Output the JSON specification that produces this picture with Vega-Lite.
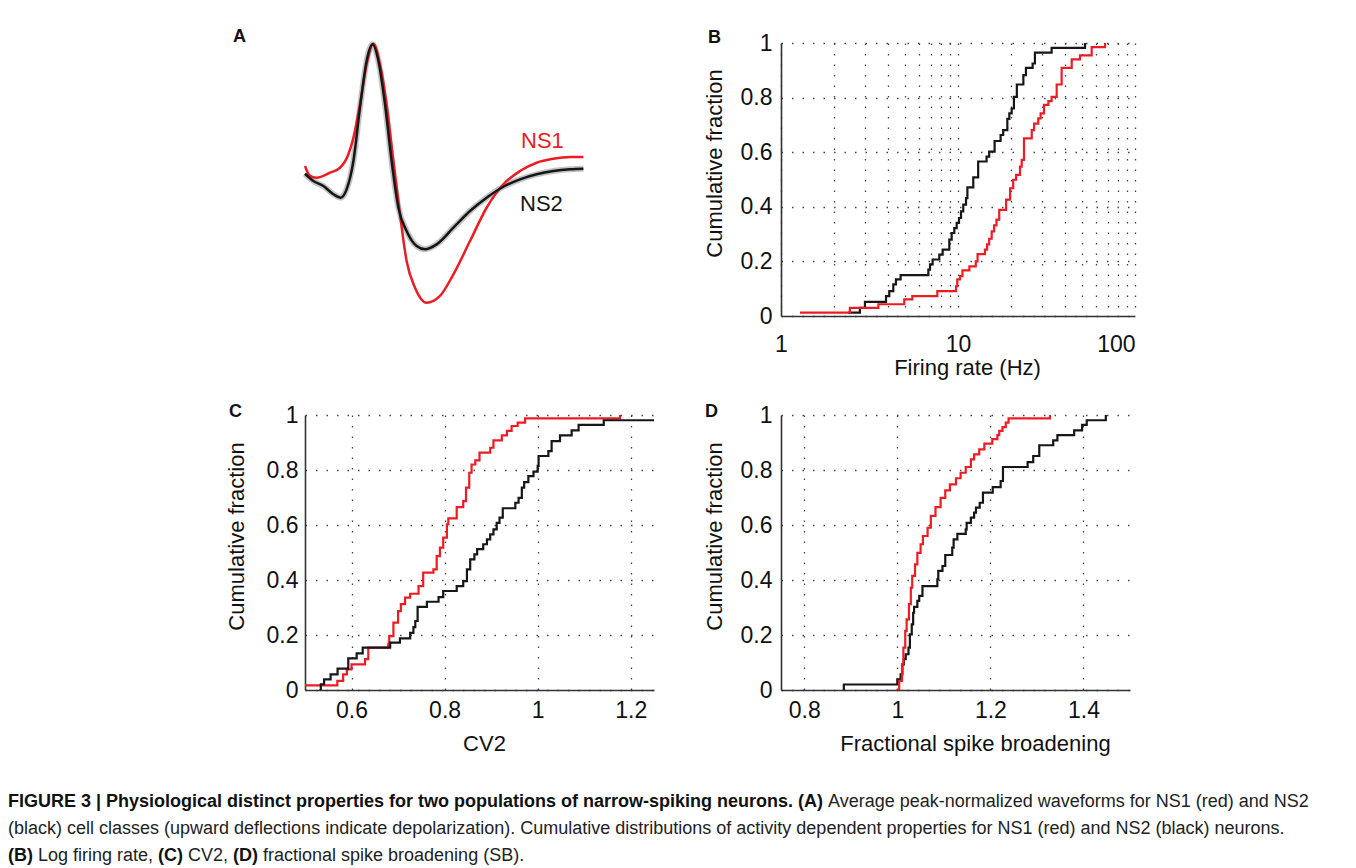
{
  "$schema": "https://vega.github.io/schema/vega-lite/v6.json",
  "background": "white",
  "padding": {"left": 8, "top": 28, "right": 2, "bottom": 2},
  "config": {
    "view": {"stroke": null},
    "font": "Liberation Sans",
    "axis": {
      "labelFont": "Liberation Sans", "titleFont": "Liberation Sans",
      "labelFontSize": 23, "titleFontSize": 22, "titleFontWeight": "normal",
      "labelColor": "#111", "titleColor": "#111",
      "domainColor": "#333", "domainWidth": 1.6,
      "ticks": false, "tickSize": 0,
      "grid": true, "gridColor": "#444", "gridDash": [1.5, 9], "gridWidth": 1.3,
      "labelFlush": false
    },
    "title": {"font": "Liberation Sans", "fontSize": 18, "fontWeight": "bold", "anchor": "start", "frame": "group", "color": "#111", "offset": 0}
  },
  "datasets": {
    "wave": [
      {"group": "NS1", "t": 0.0, "a": 0.099}, {"group": "NS1", "t": 0.025, "a": 0.026}, {"group": "NS1", "t": 0.058, "a": 0.013},
      {"group": "NS1", "t": 0.125, "a": 0.05}, {"group": "NS1", "t": 0.175, "a": 0.086}, {"group": "NS1", "t": 0.217, "a": 0.185},
      {"group": "NS1", "t": 0.242, "a": 0.306}, {"group": "NS1", "t": 0.275, "a": 0.551}, {"group": "NS1", "t": 0.308, "a": 0.844},
      {"group": "NS1", "t": 0.342, "a": 0.995}, {"group": "NS1", "t": 0.375, "a": 0.844}, {"group": "NS1", "t": 0.408, "a": 0.551},
      {"group": "NS1", "t": 0.442, "a": 0.136}, {"group": "NS1", "t": 0.475, "a": -0.255}, {"group": "NS1", "t": 0.508, "a": -0.597},
      {"group": "NS1", "t": 0.55, "a": -0.793}, {"group": "NS1", "t": 0.608, "a": -0.903}, {"group": "NS1", "t": 0.675, "a": -0.853},
      {"group": "NS1", "t": 0.742, "a": -0.695}, {"group": "NS1", "t": 0.825, "a": -0.451}, {"group": "NS1", "t": 0.908, "a": -0.207},
      {"group": "NS1", "t": 0.992, "a": -0.035}, {"group": "NS1", "t": 1.075, "a": 0.062}, {"group": "NS1", "t": 1.158, "a": 0.123},
      {"group": "NS1", "t": 1.242, "a": 0.152}, {"group": "NS1", "t": 1.325, "a": 0.165}, {"group": "NS1", "t": 1.392, "a": 0.165},
      {"group": "NS2", "t": 0.0, "a": 0.042}, {"group": "NS2", "t": 0.042, "a": -0.011}, {"group": "NS2", "t": 0.092, "a": -0.048},
      {"group": "NS2", "t": 0.142, "a": -0.108}, {"group": "NS2", "t": 0.178, "a": -0.133}, {"group": "NS2", "t": 0.208, "a": -0.072},
      {"group": "NS2", "t": 0.242, "a": 0.136}, {"group": "NS2", "t": 0.275, "a": 0.526}, {"group": "NS2", "t": 0.308, "a": 0.868},
      {"group": "NS2", "t": 0.338, "a": 0.99}, {"group": "NS2", "t": 0.367, "a": 0.868}, {"group": "NS2", "t": 0.4, "a": 0.551},
      {"group": "NS2", "t": 0.433, "a": 0.136}, {"group": "NS2", "t": 0.467, "a": -0.207}, {"group": "NS2", "t": 0.508, "a": -0.377},
      {"group": "NS2", "t": 0.558, "a": -0.487}, {"group": "NS2", "t": 0.6, "a": -0.511}, {"group": "NS2", "t": 0.658, "a": -0.475},
      {"group": "NS2", "t": 0.742, "a": -0.353}, {"group": "NS2", "t": 0.825, "a": -0.231}, {"group": "NS2", "t": 0.908, "a": -0.133},
      {"group": "NS2", "t": 0.992, "a": -0.053}, {"group": "NS2", "t": 1.075, "a": 0.001}, {"group": "NS2", "t": 1.158, "a": 0.038},
      {"group": "NS2", "t": 1.242, "a": 0.062}, {"group": "NS2", "t": 1.325, "a": 0.075}, {"group": "NS2", "t": 1.392, "a": 0.079}
    ],
    "waveLabels": [
      {"group": "NS1", "t": 1.08, "a": 0.233},
      {"group": "NS2", "t": 1.075, "a": -0.231}
    ],
    "firing": [
      {"group": "NS2", "x": 2.4, "F": 0.012}, {"group": "NS2", "x": 2.79, "F": 0.03}, {"group": "NS2", "x": 2.98, "F": 0.052},
      {"group": "NS2", "x": 3.92, "F": 0.073}, {"group": "NS2", "x": 4.09, "F": 0.091}, {"group": "NS2", "x": 4.31, "F": 0.116},
      {"group": "NS2", "x": 4.46, "F": 0.134}, {"group": "NS2", "x": 4.74, "F": 0.15}, {"group": "NS2", "x": 6.8, "F": 0.17},
      {"group": "NS2", "x": 6.95, "F": 0.189}, {"group": "NS2", "x": 7.19, "F": 0.207}, {"group": "NS2", "x": 7.84, "F": 0.225},
      {"group": "NS2", "x": 8.19, "F": 0.243}, {"group": "NS2", "x": 8.93, "F": 0.28}, {"group": "NS2", "x": 9.21, "F": 0.304},
      {"group": "NS2", "x": 9.53, "F": 0.322}, {"group": "NS2", "x": 9.83, "F": 0.341}, {"group": "NS2", "x": 10.13, "F": 0.359},
      {"group": "NS2", "x": 10.4, "F": 0.383}, {"group": "NS2", "x": 10.71, "F": 0.408}, {"group": "NS2", "x": 11.1, "F": 0.432},
      {"group": "NS2", "x": 11.3, "F": 0.471}, {"group": "NS2", "x": 12.2, "F": 0.508}, {"group": "NS2", "x": 13.0, "F": 0.566},
      {"group": "NS2", "x": 14.5, "F": 0.584}, {"group": "NS2", "x": 15.0, "F": 0.602}, {"group": "NS2", "x": 16.1, "F": 0.641},
      {"group": "NS2", "x": 17.4, "F": 0.663}, {"group": "NS2", "x": 18.0, "F": 0.681}, {"group": "NS2", "x": 19.0, "F": 0.722},
      {"group": "NS2", "x": 19.5, "F": 0.742}, {"group": "NS2", "x": 20.1, "F": 0.76}, {"group": "NS2", "x": 20.7, "F": 0.803},
      {"group": "NS2", "x": 21.5, "F": 0.848}, {"group": "NS2", "x": 23.4, "F": 0.882}, {"group": "NS2", "x": 24.2, "F": 0.909},
      {"group": "NS2", "x": 26.4, "F": 0.925}, {"group": "NS2", "x": 27.2, "F": 0.965}, {"group": "NS2", "x": 33.8, "F": 0.982},
      {"group": "NS2", "x": 52.2, "F": 1.0},
      {"group": "NS1", "x": 1.28, "F": 0.012}, {"group": "NS1", "x": 2.45, "F": 0.03}, {"group": "NS1", "x": 3.55, "F": 0.043},
      {"group": "NS1", "x": 4.97, "F": 0.061}, {"group": "NS1", "x": 5.52, "F": 0.073}, {"group": "NS1", "x": 7.64, "F": 0.091},
      {"group": "NS1", "x": 9.75, "F": 0.109}, {"group": "NS1", "x": 9.91, "F": 0.134}, {"group": "NS1", "x": 10.26, "F": 0.146},
      {"group": "NS1", "x": 10.6, "F": 0.167}, {"group": "NS1", "x": 11.6, "F": 0.182}, {"group": "NS1", "x": 12.6, "F": 0.2},
      {"group": "NS1", "x": 12.9, "F": 0.227}, {"group": "NS1", "x": 14.2, "F": 0.243}, {"group": "NS1", "x": 14.6, "F": 0.262},
      {"group": "NS1", "x": 15.0, "F": 0.283}, {"group": "NS1", "x": 15.5, "F": 0.31}, {"group": "NS1", "x": 16.0, "F": 0.332},
      {"group": "NS1", "x": 16.5, "F": 0.353}, {"group": "NS1", "x": 17.1, "F": 0.389}, {"group": "NS1", "x": 18.7, "F": 0.426},
      {"group": "NS1", "x": 19.7, "F": 0.468}, {"group": "NS1", "x": 20.5, "F": 0.499}, {"group": "NS1", "x": 21.3, "F": 0.517},
      {"group": "NS1", "x": 22.4, "F": 0.547}, {"group": "NS1", "x": 22.9, "F": 0.572}, {"group": "NS1", "x": 23.6, "F": 0.651},
      {"group": "NS1", "x": 26.1, "F": 0.681}, {"group": "NS1", "x": 26.9, "F": 0.705}, {"group": "NS1", "x": 28.4, "F": 0.724},
      {"group": "NS1", "x": 29.3, "F": 0.742}, {"group": "NS1", "x": 30.6, "F": 0.773}, {"group": "NS1", "x": 32.4, "F": 0.787},
      {"group": "NS1", "x": 33.8, "F": 0.803}, {"group": "NS1", "x": 36.1, "F": 0.848}, {"group": "NS1", "x": 38.5, "F": 0.909},
      {"group": "NS1", "x": 43.9, "F": 0.94}, {"group": "NS1", "x": 48.9, "F": 0.955}, {"group": "NS1", "x": 56.9, "F": 0.985},
      {"group": "NS1", "x": 67.7, "F": 1.0}
    ],
    "cv2": [
      {"group": "NS1", "x": 0.49, "F": 0.017}, {"group": "NS1", "x": 0.5695, "F": 0.033}, {"group": "NS1", "x": 0.582, "F": 0.057},
      {"group": "NS1", "x": 0.59, "F": 0.075}, {"group": "NS1", "x": 0.6, "F": 0.093}, {"group": "NS1", "x": 0.629, "F": 0.112},
      {"group": "NS1", "x": 0.636, "F": 0.154}, {"group": "NS1", "x": 0.679, "F": 0.168}, {"group": "NS1", "x": 0.681, "F": 0.196},
      {"group": "NS1", "x": 0.69, "F": 0.245}, {"group": "NS1", "x": 0.7, "F": 0.287}, {"group": "NS1", "x": 0.706, "F": 0.312},
      {"group": "NS1", "x": 0.715, "F": 0.336}, {"group": "NS1", "x": 0.726, "F": 0.35}, {"group": "NS1", "x": 0.744, "F": 0.378},
      {"group": "NS1", "x": 0.754, "F": 0.427}, {"group": "NS1", "x": 0.776, "F": 0.439}, {"group": "NS1", "x": 0.783, "F": 0.487},
      {"group": "NS1", "x": 0.79, "F": 0.518}, {"group": "NS1", "x": 0.797, "F": 0.554}, {"group": "NS1", "x": 0.805, "F": 0.602},
      {"group": "NS1", "x": 0.808, "F": 0.624}, {"group": "NS1", "x": 0.826, "F": 0.665}, {"group": "NS1", "x": 0.84, "F": 0.687},
      {"group": "NS1", "x": 0.846, "F": 0.736}, {"group": "NS1", "x": 0.853, "F": 0.79}, {"group": "NS1", "x": 0.858, "F": 0.82},
      {"group": "NS1", "x": 0.866, "F": 0.835}, {"group": "NS1", "x": 0.875, "F": 0.863}, {"group": "NS1", "x": 0.898, "F": 0.881},
      {"group": "NS1", "x": 0.905, "F": 0.908}, {"group": "NS1", "x": 0.923, "F": 0.926}, {"group": "NS1", "x": 0.934, "F": 0.942},
      {"group": "NS1", "x": 0.944, "F": 0.96}, {"group": "NS1", "x": 0.957, "F": 0.972}, {"group": "NS1", "x": 0.973, "F": 0.988},
      {"group": "NS1", "x": 1.177, "F": 1.0},
      {"group": "NS2", "x": 0.531, "F": 0.0}, {"group": "NS2", "x": 0.534, "F": 0.021}, {"group": "NS2", "x": 0.541, "F": 0.039},
      {"group": "NS2", "x": 0.555, "F": 0.057}, {"group": "NS2", "x": 0.57, "F": 0.078}, {"group": "NS2", "x": 0.593, "F": 0.115},
      {"group": "NS2", "x": 0.611, "F": 0.133}, {"group": "NS2", "x": 0.624, "F": 0.154}, {"group": "NS2", "x": 0.683, "F": 0.172},
      {"group": "NS2", "x": 0.704, "F": 0.188}, {"group": "NS2", "x": 0.726, "F": 0.208}, {"group": "NS2", "x": 0.733, "F": 0.229},
      {"group": "NS2", "x": 0.737, "F": 0.251}, {"group": "NS2", "x": 0.742, "F": 0.302}, {"group": "NS2", "x": 0.762, "F": 0.321},
      {"group": "NS2", "x": 0.787, "F": 0.338}, {"group": "NS2", "x": 0.797, "F": 0.36}, {"group": "NS2", "x": 0.826, "F": 0.378},
      {"group": "NS2", "x": 0.84, "F": 0.396}, {"group": "NS2", "x": 0.848, "F": 0.439}, {"group": "NS2", "x": 0.855, "F": 0.475},
      {"group": "NS2", "x": 0.864, "F": 0.493}, {"group": "NS2", "x": 0.87, "F": 0.512}, {"group": "NS2", "x": 0.883, "F": 0.53},
      {"group": "NS2", "x": 0.891, "F": 0.548}, {"group": "NS2", "x": 0.898, "F": 0.566}, {"group": "NS2", "x": 0.905, "F": 0.584},
      {"group": "NS2", "x": 0.912, "F": 0.608}, {"group": "NS2", "x": 0.918, "F": 0.627}, {"group": "NS2", "x": 0.925, "F": 0.661},
      {"group": "NS2", "x": 0.952, "F": 0.681}, {"group": "NS2", "x": 0.959, "F": 0.699}, {"group": "NS2", "x": 0.966, "F": 0.736},
      {"group": "NS2", "x": 0.971, "F": 0.756}, {"group": "NS2", "x": 0.98, "F": 0.778}, {"group": "NS2", "x": 0.991, "F": 0.794},
      {"group": "NS2", "x": 1.0, "F": 0.815}, {"group": "NS2", "x": 1.002, "F": 0.851}, {"group": "NS2", "x": 1.023, "F": 0.869},
      {"group": "NS2", "x": 1.03, "F": 0.905}, {"group": "NS2", "x": 1.048, "F": 0.926}, {"group": "NS2", "x": 1.073, "F": 0.944},
      {"group": "NS2", "x": 1.088, "F": 0.964}, {"group": "NS2", "x": 1.142, "F": 0.981}, {"group": "NS2", "x": 1.32, "F": 1.0}
    ],
    "sb": [
      {"group": "NS2", "x": 0.884, "F": 0.0}, {"group": "NS2", "x": 0.885, "F": 0.02}, {"group": "NS2", "x": 1.0, "F": 0.039},
      {"group": "NS2", "x": 1.007, "F": 0.057}, {"group": "NS2", "x": 1.011, "F": 0.093}, {"group": "NS2", "x": 1.014, "F": 0.112},
      {"group": "NS2", "x": 1.018, "F": 0.13}, {"group": "NS2", "x": 1.024, "F": 0.154}, {"group": "NS2", "x": 1.027, "F": 0.202},
      {"group": "NS2", "x": 1.031, "F": 0.239}, {"group": "NS2", "x": 1.034, "F": 0.281}, {"group": "NS2", "x": 1.036, "F": 0.302},
      {"group": "NS2", "x": 1.043, "F": 0.324}, {"group": "NS2", "x": 1.047, "F": 0.342}, {"group": "NS2", "x": 1.054, "F": 0.378},
      {"group": "NS2", "x": 1.086, "F": 0.402}, {"group": "NS2", "x": 1.088, "F": 0.433}, {"group": "NS2", "x": 1.097, "F": 0.451},
      {"group": "NS2", "x": 1.103, "F": 0.491}, {"group": "NS2", "x": 1.118, "F": 0.518}, {"group": "NS2", "x": 1.121, "F": 0.548},
      {"group": "NS2", "x": 1.129, "F": 0.568}, {"group": "NS2", "x": 1.147, "F": 0.584}, {"group": "NS2", "x": 1.149, "F": 0.608},
      {"group": "NS2", "x": 1.158, "F": 0.627}, {"group": "NS2", "x": 1.165, "F": 0.645}, {"group": "NS2", "x": 1.169, "F": 0.663},
      {"group": "NS2", "x": 1.177, "F": 0.681}, {"group": "NS2", "x": 1.184, "F": 0.718}, {"group": "NS2", "x": 1.205, "F": 0.738},
      {"group": "NS2", "x": 1.222, "F": 0.76}, {"group": "NS2", "x": 1.227, "F": 0.811}, {"group": "NS2", "x": 1.28, "F": 0.829},
      {"group": "NS2", "x": 1.292, "F": 0.851}, {"group": "NS2", "x": 1.305, "F": 0.89}, {"group": "NS2", "x": 1.335, "F": 0.908},
      {"group": "NS2", "x": 1.344, "F": 0.927}, {"group": "NS2", "x": 1.38, "F": 0.944}, {"group": "NS2", "x": 1.397, "F": 0.964},
      {"group": "NS2", "x": 1.407, "F": 0.981}, {"group": "NS2", "x": 1.448, "F": 1.0},
      {"group": "NS1", "x": 0.998, "F": 0.0}, {"group": "NS1", "x": 1.004, "F": 0.033}, {"group": "NS1", "x": 1.01, "F": 0.093},
      {"group": "NS1", "x": 1.013, "F": 0.154}, {"group": "NS1", "x": 1.017, "F": 0.215}, {"group": "NS1", "x": 1.02, "F": 0.257},
      {"group": "NS1", "x": 1.025, "F": 0.312}, {"group": "NS1", "x": 1.029, "F": 0.372}, {"group": "NS1", "x": 1.032, "F": 0.415},
      {"group": "NS1", "x": 1.038, "F": 0.457}, {"group": "NS1", "x": 1.043, "F": 0.499}, {"group": "NS1", "x": 1.05, "F": 0.53},
      {"group": "NS1", "x": 1.055, "F": 0.56}, {"group": "NS1", "x": 1.065, "F": 0.59}, {"group": "NS1", "x": 1.072, "F": 0.633},
      {"group": "NS1", "x": 1.082, "F": 0.665}, {"group": "NS1", "x": 1.093, "F": 0.699}, {"group": "NS1", "x": 1.103, "F": 0.726},
      {"group": "NS1", "x": 1.113, "F": 0.748}, {"group": "NS1", "x": 1.126, "F": 0.77}, {"group": "NS1", "x": 1.136, "F": 0.79},
      {"group": "NS1", "x": 1.147, "F": 0.811}, {"group": "NS1", "x": 1.158, "F": 0.839}, {"group": "NS1", "x": 1.165, "F": 0.857},
      {"group": "NS1", "x": 1.176, "F": 0.875}, {"group": "NS1", "x": 1.187, "F": 0.896}, {"group": "NS1", "x": 1.204, "F": 0.912},
      {"group": "NS1", "x": 1.215, "F": 0.927}, {"group": "NS1", "x": 1.219, "F": 0.942}, {"group": "NS1", "x": 1.226, "F": 0.956},
      {"group": "NS1", "x": 1.233, "F": 0.972}, {"group": "NS1", "x": 1.239, "F": 0.988}, {"group": "NS1", "x": 1.328, "F": 1.0}
    ],
    "caption": [
      {"line": 1, "seg": "b1", "text": "FIGURE 3 | Physiological distinct properties for two populations of narrow-spiking neurons. (A)"},
      {"line": 1, "seg": "n1", "text": "Average peak-normalized waveforms for NS1 (red) and NS2"},
      {"line": 2, "seg": "n2", "text": "(black) cell classes (upward deflections indicate depolarization). Cumulative distributions of activity dependent properties for NS1 (red) and NS2 (black) neurons."},
      {"line": 3, "seg": "bB", "text": "(B)"},
      {"line": 3, "seg": "nB", "text": "Log firing rate,"},
      {"line": 3, "seg": "bC", "text": "(C)"},
      {"line": 3, "seg": "nC", "text": "CV2,"},
      {"line": 3, "seg": "bD", "text": "(D)"},
      {"line": 3, "seg": "nD", "text": "fractional spike broadening (SB)."}
    ]
  },
  "vconcat": [
    {
      "columns": 2,
      "align": "each",
      "bounds": "flush",
      "spacing": {"row": 99, "column": 127},
      "concat": [
        {
          "title": {"text": "A", "dx": -72, "dy": 18},
          "width": 349, "height": 273,
          "data": {"name": "wave"},
          "layer": [
            {
              "transform": [{"filter": "datum.group == 'NS2'"}],
              "mark": {"type": "line", "interpolate": "monotone", "strokeWidth": 6, "color": "#b5b5b5", "opacity": 0.8},
              "encoding": {
                "x": {"field": "t", "type": "quantitative", "scale": {"domain": [0, 1.745], "nice": false, "zero": false}, "axis": null},
                "y": {"field": "a", "type": "quantitative", "scale": {"domain": [-1, 1], "nice": false}, "axis": null}
              }
            },
            {
              "mark": {"type": "line", "interpolate": "monotone", "strokeWidth": 2.5},
              "encoding": {
                "x": {"field": "t", "type": "quantitative", "axis": null},
                "y": {"field": "a", "type": "quantitative", "axis": null},
                "color": {"field": "group", "type": "nominal", "scale": {"domain": ["NS1", "NS2"], "range": ["#ec1c24", "#161616"]}, "legend": null}
              }
            },
            {
              "data": {"name": "waveLabels"},
              "mark": {"type": "text", "align": "left", "baseline": "alphabetic", "fontSize": 22, "font": "Liberation Sans"},
              "encoding": {
                "x": {"field": "t", "type": "quantitative", "axis": null},
                "y": {"field": "a", "type": "quantitative", "axis": null},
                "text": {"field": "group"},
                "color": {"field": "group", "type": "nominal", "legend": null}
              }
            }
          ]
        },
        {
          "title": {"text": "B", "dx": -73, "dy": 19},
          "width": 354, "height": 273,
          "data": {"name": "firing"},
          "mark": {"type": "line", "interpolate": "step-after", "strokeWidth": 2.2, "clip": true},
          "encoding": {
            "x": {"field": "x", "type": "quantitative",
                  "scale": {"type": "log", "domain": [1, 100], "nice": false},
                  "axis": {"title": "Firing rate (Hz)", "values": [1, 2, 3, 4, 5, 6, 7, 8, 9, 10, 20, 30, 40, 50, 60, 70, 80, 90, 100],
                           "format": "d",
                           "labelExpr": "datum.value == 1 || datum.value == 10 || datum.value == 100 ? datum.label : ''",
                           "labelAlign": {"condition": {"test": "datum.value == 100", "value": "right"}, "value": "center"},
                           "labelPadding": 17, "titlePadding": 1, "titleX": 186}},
            "y": {"field": "F", "type": "quantitative", "scale": {"domain": [0, 1], "nice": false},
                  "axis": {"title": "Cumulative fraction", "values": [0, 0.2, 0.4, 0.6, 0.8, 1], "format": "~g", "labelPadding": 9, "titlePadding": 14, "titleY": 120}},
            "color": {"field": "group", "type": "nominal", "scale": {"domain": ["NS1", "NS2"], "range": ["#ec1c24", "#161616"]}, "legend": null}
          }
        },
        {
          "title": {"text": "C", "dx": -76, "dy": 21},
          "width": 349, "height": 275,
          "data": {"name": "cv2"},
          "mark": {"type": "line", "interpolate": "step-after", "strokeWidth": 2.2, "clip": true},
          "encoding": {
            "x": {"field": "x", "type": "quantitative", "scale": {"domain": [0.5, 1.25], "nice": false, "zero": false},
                  "axis": {"title": "CV2", "values": [0.6, 0.8, 1, 1.2], "format": "~g", "labelPadding": 9, "titlePadding": 11, "titleX": 179}},
            "y": {"field": "F", "type": "quantitative", "scale": {"domain": [0, 1], "nice": false},
                  "axis": {"title": "Cumulative fraction", "values": [0, 0.2, 0.4, 0.6, 0.8, 1], "format": "~g", "labelPadding": 7, "titlePadding": 18, "titleY": 121}},
            "color": {"field": "group", "type": "nominal", "scale": {"domain": ["NS1", "NS2"], "range": ["#ec1c24", "#161616"]}, "legend": null}
          }
        },
        {
          "title": {"text": "D", "dx": -76, "dy": 21},
          "width": 349, "height": 275,
          "data": {"name": "sb"},
          "mark": {"type": "line", "interpolate": "step-after", "strokeWidth": 2.2, "clip": true},
          "encoding": {
            "x": {"field": "x", "type": "quantitative", "scale": {"domain": [0.75, 1.5], "nice": false, "zero": false},
                  "axis": {"title": "Fractional spike broadening", "values": [0.8, 1, 1.2, 1.4], "format": "~g", "labelPadding": 9, "titlePadding": 11, "titleX": 194}},
            "y": {"field": "F", "type": "quantitative", "scale": {"domain": [0, 1], "nice": false},
                  "axis": {"title": "Cumulative fraction", "values": [0, 0.2, 0.4, 0.6, 0.8, 1], "format": "~g", "labelPadding": 9, "titlePadding": 14, "titleY": 121}},
            "color": {"field": "group", "type": "nominal", "scale": {"domain": ["NS1", "NS2"], "range": ["#ec1c24", "#161616"]}, "legend": null}
          }
        }
      ]
    },
    {
      "width": 1000, "height": 80,
      "data": {"name": "caption"},
      "encoding": {
        "y": {"field": "line", "type": "ordinal", "axis": null},
        "x": {"datum": 0, "type": "quantitative", "scale": {"domain": [0, 1]}, "axis": null},
        "text": {"field": "text"}
      },
      "layer": [
        {"transform": [{"filter": "datum.seg == 'b1' || datum.seg == 'bB'"}],
         "mark": {"type": "text", "align": "left", "baseline": "middle", "fontSize": 18, "fontWeight": "bold", "font": "Liberation Sans", "color": "#111", "dx": -297}},
        {"transform": [{"filter": "datum.seg == 'n2'"}],
         "mark": {"type": "text", "align": "left", "baseline": "middle", "fontSize": 18, "font": "Liberation Sans", "color": "#222", "dx": -297}},
        {"transform": [{"filter": "datum.seg == 'n1'"}],
         "mark": {"type": "text", "align": "left", "baseline": "middle", "fontSize": 18, "font": "Liberation Sans", "color": "#222", "dx": 523}},
        {"transform": [{"filter": "datum.seg == 'nB'"}],
         "mark": {"type": "text", "align": "left", "baseline": "middle", "fontSize": 18, "font": "Liberation Sans", "color": "#222", "dx": -267}},
        {"transform": [{"filter": "datum.seg == 'bC'"}],
         "mark": {"type": "text", "align": "left", "baseline": "middle", "fontSize": 18, "fontWeight": "bold", "font": "Liberation Sans", "color": "#111", "dx": -147}},
        {"transform": [{"filter": "datum.seg == 'nC'"}],
         "mark": {"type": "text", "align": "left", "baseline": "middle", "fontSize": 18, "font": "Liberation Sans", "color": "#222", "dx": -117}},
        {"transform": [{"filter": "datum.seg == 'bD'"}],
         "mark": {"type": "text", "align": "left", "baseline": "middle", "fontSize": 18, "fontWeight": "bold", "font": "Liberation Sans", "color": "#111", "dx": -72}},
        {"transform": [{"filter": "datum.seg == 'nD'"}],
         "mark": {"type": "text", "align": "left", "baseline": "middle", "fontSize": 18, "font": "Liberation Sans", "color": "#222", "dx": -42}}
      ]
    }
  ],
  "spacing": 35
}
